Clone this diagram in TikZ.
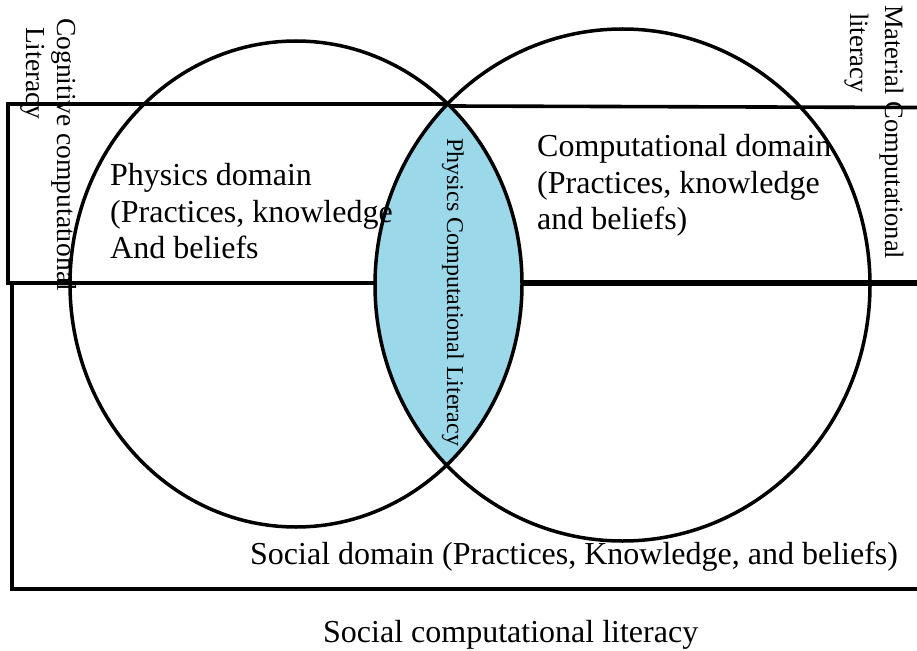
\documentclass[tikz,border=0pt]{standalone}
\usepackage{fontspec}
\setmainfont{Liberation Serif}
\definecolor{lensblue}{RGB}{155,216,233}
\begin{document}
\begin{tikzpicture}[x=1bp,y=-1bp,
  frame/.style={line width=3.6bp, line join=miter},
  ring/.style={line width=3.5bp},
  lbl/.style={inner sep=0pt, anchor=base west, font=\fontsize{32bp}{36bp}\selectfont},
  vlbl/.style={inner sep=0pt, anchor=base west, rotate=-90},
  ]
\useasboundingbox (0,0) rectangle (917,651);
\fill[white] (0,0) rectangle (917,651);

% overlap of the two domains
\begin{scope}
  \clip (296,284) ellipse [x radius=226, y radius=243];
  \fill[lensblue] (622.5,285) ellipse [x radius=247.5, y radius=256];
\end{scope}

% domain texts
\node[lbl] (phys1) at (110,185) {Physics domain};
\node[lbl] (phys2) at (110,222) {(Practices, knowledge};
\node[lbl] (phys3) at (110,258) {And beliefs};

\node[lbl] (comp1) at (537,157) {Computational domain};
\node[lbl] (comp2) at (537,193) {(Practices, knowledge};
\node[lbl] (comp3) at (537,229) {and beliefs)};

\node[lbl] (social) at (250,564) {Social domain (Practices, Knowledge, and beliefs)};
\node[lbl] (sociallit) at (323,642) {Social computational literacy};

% vertical literacy labels
\node[vlbl, font=\fontsize{27.5bp}{31bp}\selectfont] (cog1) at (57,18) {Cognitive computational};
\node[vlbl, font=\fontsize{27.5bp}{31bp}\selectfont] (cog2) at (26,27) {Literacy};
\node[vlbl, font=\fontsize{26.5bp}{31bp}\selectfont] (mat1) at (885,5) {Material Computational};
\node[vlbl, font=\fontsize{26.5bp}{31bp}\selectfont] (mat2) at (850,13) {literacy};
\node[vlbl, font=\fontsize{24bp}{28bp}\selectfont] (pcl) at (447,138) {Physics Computational Literacy};

% upper box (cognitive / material strip)
\draw[frame] (450,104) -- (8,104) -- (8,283) -- (375,283);
\draw[frame] (450,106) -- (917,107.5);
\draw[line width=6.5bp] (522,283) -- (917,283);

% lower box (social strip)
\draw[frame] (12,283) -- (12,589) -- (917,589);

% the two domains
\draw[ring] (296,284) ellipse [x radius=226, y radius=243];
\draw[ring] (622.5,285) ellipse [x radius=247.5, y radius=256];
\end{tikzpicture}
\end{document}
